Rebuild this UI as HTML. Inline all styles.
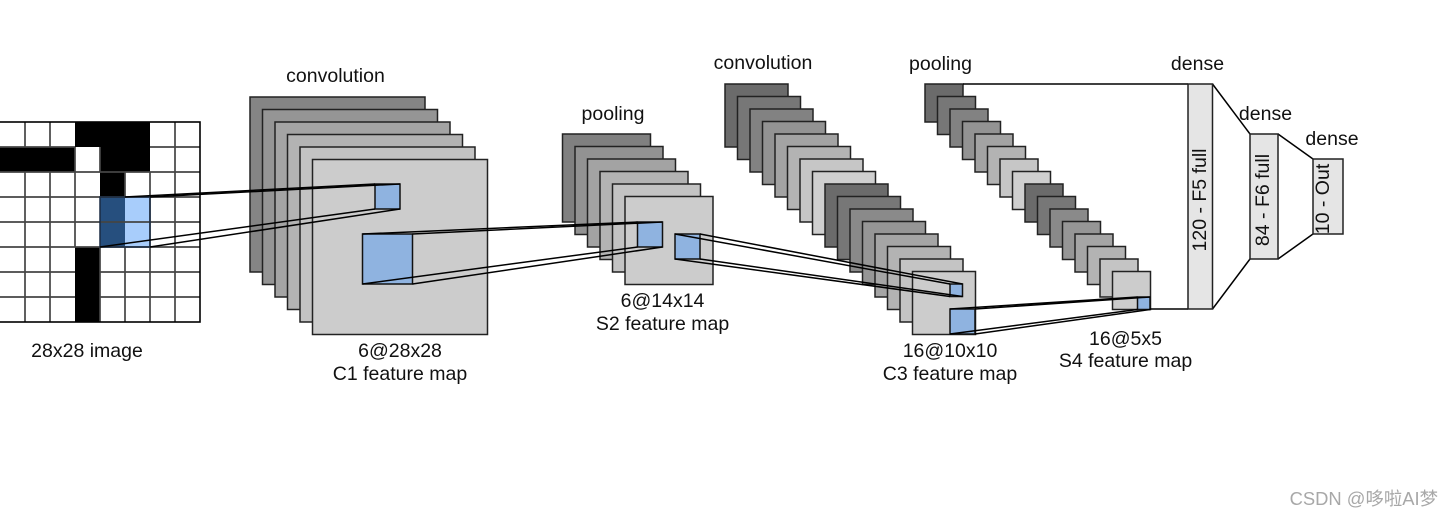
<!DOCTYPE html>
<html><head><meta charset="utf-8"><style>
html,body{margin:0;padding:0;background:#fff}
svg{display:block}
text{font-family:"Liberation Sans","Noto Sans CJK SC",sans-serif;font-size:19.5px;fill:#111;text-anchor:middle}
.s rect{stroke:#222;stroke-width:1.5}
.l line{stroke:#000;stroke-width:1.5}
</style></head><body>
<svg width="1454" height="518" viewBox="0 0 1454 518" xmlns="http://www.w3.org/2000/svg">
<rect width="1454" height="518" fill="#fff"/>
<!-- input grid -->
<g fill="#000">
<rect x="75" y="122" width="75" height="25"/>
<rect x="0" y="147" width="75" height="25"/>
<rect x="100" y="147" width="50" height="25"/>
<rect x="100" y="172" width="25" height="25"/>
<rect x="75" y="247" width="25" height="75"/>
</g>
<rect x="100" y="197" width="25" height="50" fill="#264f7e"/>
<rect x="125" y="197" width="25" height="50" fill="#a8cdfb"/>
<g stroke="#444" stroke-width="1.7">
<line x1="25" y1="122" x2="25" y2="147"/><line x1="50" y1="122" x2="50" y2="147"/>
<line x1="25" y1="172" x2="25" y2="322"/><line x1="50" y1="172" x2="50" y2="322"/>
<line x1="125" y1="247" x2="125" y2="322"/><line x1="125" y1="172" x2="125" y2="197"/>
<line x1="150" y1="172" x2="150" y2="322"/><line x1="175" y1="122" x2="175" y2="322"/>
<line x1="75" y1="172" x2="75" y2="247"/><line x1="75" y1="147" x2="75" y2="172"/>
<line x1="100" y1="147" x2="100" y2="172"/><line x1="100" y1="247" x2="100" y2="322"/>
<line x1="0" y1="172" x2="200" y2="172"/><line x1="0" y1="197" x2="200" y2="197"/>
<line x1="0" y1="222" x2="200" y2="222"/><line x1="0" y1="247" x2="200" y2="247"/>
<line x1="0" y1="272" x2="75" y2="272"/><line x1="100" y1="272" x2="200" y2="272"/>
<line x1="0" y1="297" x2="75" y2="297"/><line x1="100" y1="297" x2="200" y2="297"/>
<line x1="150" y1="147" x2="200" y2="147"/><line x1="0" y1="147" x2="75" y2="147"/>
</g>
<rect x="100" y="197" width="50" height="50" fill="none" stroke="#1a2c44" stroke-width="1.5"/>
<rect x="-2" y="122" width="202" height="200" fill="none" stroke="#000" stroke-width="1.6"/>
<!-- C1 -->
<g class="s">
<rect x="250" y="97" width="175" height="175" fill="#858585"/>
<rect x="262.5" y="109.5" width="175" height="175" fill="#959595"/>
<rect x="275" y="122" width="175" height="175" fill="#a4a4a4"/>
<rect x="287.5" y="134.5" width="175" height="175" fill="#b3b3b3"/>
<rect x="300" y="147" width="175" height="175" fill="#c3c3c3"/>
<rect x="312.5" y="159.5" width="175" height="175" fill="#cccccc"/>
</g>
<!-- S2 -->
<g class="s">
<rect x="562.5" y="134" width="88" height="88" fill="#808080"/>
<rect x="575" y="146.5" width="88" height="88" fill="#929292"/>
<rect x="587.5" y="159" width="88" height="88" fill="#a3a3a3"/>
<rect x="600" y="171.5" width="88" height="88" fill="#b3b3b3"/>
<rect x="612.5" y="184" width="88" height="88" fill="#c3c3c3"/>
<rect x="625" y="196.5" width="88" height="88" fill="#cccccc"/>
</g>
<!-- C3 -->
<g class="s">
<rect x="725" y="84" width="63" height="63" fill="#6b6b6b"/>
<rect x="737.5" y="96.5" width="63" height="63" fill="#777777"/>
<rect x="750" y="109" width="63" height="63" fill="#828282"/>
<rect x="762.5" y="121.5" width="63" height="63" fill="#939393"/>
<rect x="775" y="134" width="63" height="63" fill="#a3a3a3"/>
<rect x="787.5" y="146.5" width="63" height="63" fill="#b3b3b3"/>
<rect x="800" y="159" width="63" height="63" fill="#c6c6c6"/>
<rect x="812.5" y="171.5" width="63" height="63" fill="#cfcfcf"/>
<rect x="825" y="184" width="63" height="63" fill="#6b6b6b"/>
<rect x="837.5" y="196.5" width="63" height="63" fill="#777777"/>
<rect x="850" y="209" width="63" height="63" fill="#8a8a8a"/>
<rect x="862.5" y="221.5" width="63" height="63" fill="#969696"/>
<rect x="875" y="234" width="63" height="63" fill="#a5a5a5"/>
<rect x="887.5" y="246.5" width="63" height="63" fill="#b3b3b3"/>
<rect x="900" y="259" width="63" height="63" fill="#c4c4c4"/>
<rect x="912.5" y="271.5" width="63" height="63" fill="#cccccc"/>
</g>
<!-- S4 -->
<g class="s">
<rect x="925" y="84" width="38" height="38" fill="#6b6b6b"/>
<rect x="937.5" y="96.5" width="38" height="38" fill="#777777"/>
<rect x="950" y="109" width="38" height="38" fill="#828282"/>
<rect x="962.5" y="121.5" width="38" height="38" fill="#939393"/>
<rect x="975" y="134" width="38" height="38" fill="#a3a3a3"/>
<rect x="987.5" y="146.5" width="38" height="38" fill="#b3b3b3"/>
<rect x="1000" y="159" width="38" height="38" fill="#c6c6c6"/>
<rect x="1012.5" y="171.5" width="38" height="38" fill="#cfcfcf"/>
<rect x="1025" y="184" width="38" height="38" fill="#6b6b6b"/>
<rect x="1037.5" y="196.5" width="38" height="38" fill="#777777"/>
<rect x="1050" y="209" width="38" height="38" fill="#8a8a8a"/>
<rect x="1062.5" y="221.5" width="38" height="38" fill="#969696"/>
<rect x="1075" y="234" width="38" height="38" fill="#a5a5a5"/>
<rect x="1087.5" y="246.5" width="38" height="38" fill="#b3b3b3"/>
<rect x="1100" y="259" width="38" height="38" fill="#c4c4c4"/>
<rect x="1112.5" y="271.5" width="38" height="38" fill="#cccccc"/>
</g>
<!-- blue boxes -->
<g fill="#8fb3e0" stroke="#111" stroke-width="1.5">
<rect x="375" y="184" width="25" height="25"/>
<rect x="362.5" y="234" width="50" height="50"/>
<rect x="637.5" y="222" width="25" height="25"/>
<rect x="675" y="234" width="25" height="25"/>
<rect x="950" y="284" width="12.5" height="12.5"/>
<rect x="950" y="309" width="25" height="25"/>
<rect x="1137.5" y="297" width="12.5" height="12.5"/>
</g>
<!-- connectors -->
<g class="l">
<line x1="125" y1="197" x2="375" y2="184"/><line x1="150" y1="197" x2="400" y2="184"/>
<line x1="100" y1="247" x2="375" y2="209"/><line x1="150" y1="247" x2="400" y2="209"/>
<line x1="362.5" y1="234" x2="637.5" y2="222"/><line x1="412.5" y1="234" x2="662.5" y2="222"/>
<line x1="362.5" y1="284" x2="637.5" y2="247"/><line x1="412.5" y1="284" x2="662.5" y2="247"/>
<line x1="675" y1="234" x2="950" y2="284"/><line x1="700" y1="234" x2="962.5" y2="284"/>
<line x1="675" y1="259" x2="950" y2="296.5"/><line x1="700" y1="259" x2="962.5" y2="296.5"/>
<line x1="950" y1="309" x2="1137.5" y2="297"/><line x1="975" y1="309" x2="1150" y2="297"/>
<line x1="950" y1="334" x2="1137.5" y2="309.5"/><line x1="975" y1="334" x2="1150" y2="309.5"/>
<line x1="963" y1="84" x2="1188" y2="84"/><line x1="1150" y1="309" x2="1188" y2="309"/>
<line x1="1212.5" y1="84" x2="1250" y2="134"/><line x1="1212.5" y1="309" x2="1250" y2="259"/>
<line x1="1278" y1="134" x2="1313" y2="159"/><line x1="1278" y1="259" x2="1313" y2="234"/>
</g>
<!-- dense -->
<g class="s">
<rect x="1188" y="84" width="24.5" height="225" fill="#e5e5e5"/>
<rect x="1250" y="134" width="28" height="125" fill="#e5e5e5"/>
<rect x="1313" y="159" width="30" height="75" fill="#e5e5e5"/>
</g>
<!-- labels -->
<text x="335.5" y="82">convolution</text>
<text x="87" y="357">28x28 image</text>
<text x="400" y="357">6@28x28</text>
<text x="400" y="380">C1 feature map</text>
<text x="613" y="120">pooling</text>
<text x="662.5" y="307">6@14x14</text>
<text x="662.5" y="330">S2 feature map</text>
<text x="763" y="69">convolution</text>
<text x="940.5" y="70">pooling</text>
<text x="950" y="357">16@10x10</text>
<text x="950" y="380">C3 feature map</text>
<text x="1125.5" y="345">16@5x5</text>
<text x="1125.5" y="367">S4 feature map</text>
<text x="1197.5" y="70">dense</text>
<text x="1265.5" y="120">dense</text>
<text x="1332" y="145">dense</text>
<text transform="translate(1206,200) rotate(-90)">120 - F5 full</text>
<text transform="translate(1269,200) rotate(-90)">84 - F6 full</text>
<text transform="translate(1329,199) rotate(-90)">10 - Out</text>
<text x="1438" y="505" style="font-size:18.4px;fill:#a8a8a8;text-anchor:end">CSDN @哆啦AI梦</text>
</svg>
</body></html>
